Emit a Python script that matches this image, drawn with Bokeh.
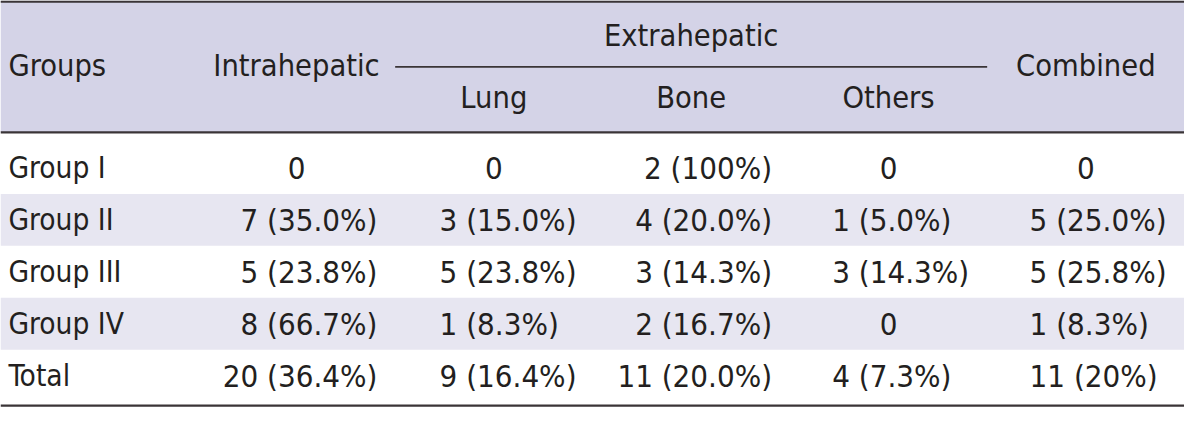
from bokeh.plotting import figure
from bokeh.models import Range1d
from bokeh.core.properties import value
from bokeh.embed import file_html
from bokeh.resources import INLINE

# ---- data ----
groups = ["Group I", "Group II", "Group III", "Group IV", "Total"]
intrahepatic = ["0", "7 (35.0%)", "5 (23.8%)", "8 (66.7%)", "20 (36.4%)"]
lung = ["0", "3 (15.0%)", "5 (23.8%)", "1 (8.3%)", "9 (16.4%)"]
bone = ["2 (100%)", "4 (20.0%)", "3 (14.3%)", "2 (16.7%)", "11 (20.0%)"]
others = ["0", "1 (5.0%)", "3 (14.3%)", "0", "4 (7.3%)"]
combined = ["0", "5 (25.0%)", "5 (25.8%)", "1 (8.3%)", "11 (20%)"]
header_top = ["Groups", "Intrahepatic", "Extrahepatic", "Combined"]
header_sub = ["Lung", "Bone", "Others"]

# ---- layout (reference pixel space) ----
X0, X1 = 0, 1200
Y0, Y1 = 0, 423
FONT = "'DejaVu Sans Condensed', Roboto, sans-serif"
INK = "#231f20"
RULE = "#3a3437"
HEAD_BG = "#d4d3e7"
STRIPE = "#e7e6f1"
ROW0, ROWH = 174, 54

p = figure(width=1184, height=407, output_backend="svg", toolbar_location=None,
           x_range=Range1d(X0, X1), y_range=Range1d(Y1, Y0), min_border=0)
p.axis.visible = False
p.grid.visible = False
p.outline_line_color = None
p.background_fill_color = "white"
p.border_fill_color = "white"

p.quad(left=[X0], right=[X1], top=[Y0], bottom=[137], fill_color=HEAD_BG, line_color=None)
stripe_rows = [i for i in range(len(groups)) if i % 2 == 1]
p.quad(left=[X0] * len(stripe_rows), right=[X1] * len(stripe_rows),
       top=[ROW0 - 27 + ROWH * i for i in stripe_rows],
       bottom=[ROW0 - 27 + ROWH * (i + 1) for i in stripe_rows],
       fill_color=STRIPE, line_color=None)

p.segment(x0=[X0, X0, X0], x1=[X1, X1, X1], y0=[1.2, 137, 421], y1=[1.2, 137, 421],
          line_color=RULE, line_width=2.2)
p.segment(x0=[400], x1=[1000], y0=[69], y1=[69], line_color=RULE, line_width=1.6)

HF = "30.5px"
BF = "29.6px"
NF = "31px"

def txt(xs, ys, texts, align, size):
    p.text(x=xs, y=ys, text=texts, text_align=align, text_baseline="middle",
           text_font=value(FONT), text_font_size=size, text_color=INK)

txt([8], [68], [header_top[0]], "left", HF)
txt([300, 700, 1100], [68, 36, 68], header_top[1:], "center", HF)
txt([500, 700, 900], [101, 101, 101], header_sub, "center", HF)

rows_y = [ROW0 + ROWH * i for i in range(len(groups))]
txt([8] * len(groups), rows_y, groups, "left", BF)

cols = [
    (intrahepatic, 382, "right", 300),
    (lung, 445, "left", 500),
    (bone, 782, "right", 700),
    (others, 843, "left", 900),
    (combined, 1043, "left", 1100),
]
for vals, ax, al, cx in cols:
    zx = [cx for v in vals if v == "0"]
    zy = [y for v, y in zip(vals, rows_y) if v == "0"]
    zt = [v for v in vals if v == "0"]
    nx = [ax for v in vals if v != "0"]
    ny = [y for v, y in zip(vals, rows_y) if v != "0"]
    nt = [v for v in vals if v != "0"]
    if zt:
        txt(zx, zy, zt, "center", NF)
    if nt:
        txt(nx, ny, nt, al, NF)

open("out.html", "w").write(file_html(p, INLINE))
